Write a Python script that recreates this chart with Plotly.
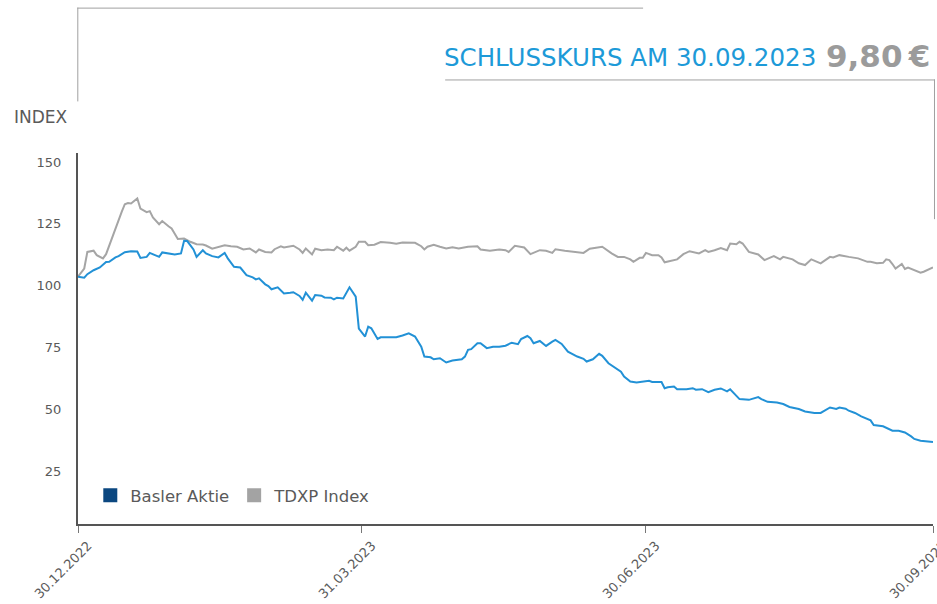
import pandas as pd
import plotly.graph_objects as go

# ---------------- data ----------------
start_date = "2022-12-30"

basler_days = [0, 2, 3, 5, 7, 9, 10, 12, 13, 15, 17, 19, 20, 22, 23, 25, 26, 27, 30, 31,
               33, 34, 35, 37, 38, 40, 41, 43, 45, 47, 48, 50, 52, 54, 56, 57, 58, 60, 61, 62,
               64, 65, 66, 68, 69, 71, 72, 73, 75, 76, 78, 79, 81, 82, 83, 85, 86, 87, 89, 90,
               92, 93, 94, 96, 97, 102, 104, 106, 108, 110, 111, 113, 114, 116, 118, 120, 123, 124, 125, 126,
               128, 129, 131, 133, 135, 137, 139, 141, 142, 144, 145, 146, 148, 149, 150, 152, 153, 155, 157, 160,
               162, 163, 165, 167, 168, 170, 172, 174, 175, 177, 179, 181, 183, 184, 187, 188, 189, 191, 192, 195,
               197, 198, 200, 202, 204, 206, 208, 209, 211, 212, 215, 218, 219, 221, 224, 226, 228, 231, 233, 236,
               238, 240, 241, 243, 244, 246, 247, 249, 251, 254, 255, 258, 260, 261, 263, 265, 267, 268, 270, 274]
basler_values = [100.0, 99.6, 101.0, 102.6, 103.7, 105.9, 106.0, 107.8, 108.3, 109.9, 110.3, 110.2, 107.6, 108.0, 109.6, 108.7, 108.0, 109.8, 109.4, 109.0,
                 109.4, 114.5, 114.4, 111.0, 108.0, 110.7, 109.4, 108.3, 107.8, 109.6, 107.4, 104.0, 103.7, 100.6, 99.7, 98.9, 99.3, 96.9, 96.2, 94.9,
                 95.7, 94.6, 93.2, 93.5, 93.7, 92.2, 90.6, 93.5, 90.3, 92.6, 92.3, 91.6, 91.5, 90.8, 91.5, 91.2, 93.3, 95.7, 91.9, 79.0,
                 75.8, 79.8, 79.1, 74.8, 75.5, 75.5, 76.2, 77.1, 75.8, 71.7, 67.7, 67.4, 66.6, 67.0, 65.3, 66.1, 66.6, 67.7, 70.4, 70.7,
                 73.1, 73.1, 71.1, 71.7, 71.7, 72.1, 73.3, 72.7, 74.8, 76.0, 75.1, 73.1, 74.0, 73.1, 72.0, 73.7, 74.4, 72.8, 69.7, 67.7,
                 66.8, 65.7, 66.6, 68.8, 68.0, 65.0, 63.3, 61.6, 59.6, 57.6, 57.2, 57.4, 57.9, 57.4, 57.4, 54.9, 55.3, 55.6, 54.5, 54.5,
                 54.9, 54.3, 54.5, 53.3, 54.3, 54.8, 53.6, 54.5, 51.6, 50.5, 50.2, 51.3, 50.5, 49.4, 49.1, 48.5, 47.3, 46.5, 45.5, 44.9,
                 44.9, 46.2, 47.1, 46.5, 47.1, 46.6, 45.8, 44.9, 43.5, 41.9, 40.0, 39.5, 38.4, 37.7, 37.7, 37.0, 35.4, 34.4, 33.7, 33.2]

tdxp_days = [0, 2, 3, 5, 6, 8, 9, 10, 12, 14, 15, 16, 17, 19, 20, 22, 23, 24, 26, 27,
             29, 30, 32, 33, 34, 36, 38, 40, 41, 43, 45, 47, 49, 51, 53, 55, 57, 58, 60, 62,
             63, 65, 66, 68, 69, 71, 72, 73, 75, 76, 78, 80, 82, 83, 85, 86, 87, 89, 90, 92,
             93, 95, 97, 100, 102, 104, 108, 110, 111, 112, 114, 116, 118, 120, 122, 125, 128, 129, 132, 135,
             137, 138, 140, 143, 145, 148, 150, 152, 153, 156, 159, 162, 164, 167, 168, 171, 173, 175, 177, 178,
             180, 181, 182, 184, 186, 187, 188, 192, 194, 196, 199, 201, 202, 204, 206, 208, 209, 211, 212, 213,
             215, 218, 219, 220, 222, 223, 225, 226, 229, 231, 233, 235, 238, 241, 242, 244, 247, 250, 253, 254,
             256, 258, 259, 260, 261, 262, 264, 265, 266, 268, 270, 271, 274]
tdxp_values = [100.0, 103.3, 110.0, 110.5, 108.7, 107.4, 109.1, 112.7, 119.5, 126.2, 129.3, 129.8, 129.6, 131.6, 127.5, 126.1, 126.5, 123.9, 121.2, 122.5,
               120.4, 119.5, 115.2, 115.2, 115.4, 114.1, 113.1, 113.0, 112.6, 111.3, 112.1, 112.7, 112.3, 112.1, 111.0, 111.4, 109.8, 111.0, 110.0, 109.8,
               111.1, 112.3, 111.8, 112.1, 112.5, 111.0, 109.6, 111.4, 109.0, 111.3, 110.7, 111.0, 110.7, 112.1, 110.5, 111.7, 110.5, 112.1, 114.1, 114.1,
               112.7, 112.9, 114.0, 113.7, 113.3, 113.8, 113.7, 112.3, 111.0, 112.1, 112.9, 112.1, 111.4, 111.9, 111.4, 112.1, 112.3, 111.0, 110.5, 111.0,
               110.7, 110.0, 112.5, 111.8, 109.1, 110.7, 110.5, 109.6, 111.1, 110.5, 110.0, 109.6, 111.3, 111.7, 112.1, 109.4, 108.0, 108.0, 107.0, 106.0,
               107.6, 107.6, 109.6, 108.7, 108.7, 107.8, 105.8, 107.0, 109.1, 110.3, 109.4, 110.7, 110.0, 110.7, 111.6, 110.7, 113.4, 113.1, 114.1, 113.4,
               110.0, 109.0, 108.0, 106.7, 107.8, 108.3, 107.0, 108.0, 107.0, 105.4, 104.7, 107.0, 105.4, 108.0, 107.8, 108.7, 108.0, 107.4, 106.0, 106.0,
               105.4, 105.6, 107.0, 106.7, 105.1, 103.3, 105.1, 103.1, 103.7, 102.7, 101.6, 102.0, 103.7]

series_names = ["Basler Aktie", "TDXP Index"]
x_tick_dates = ["2022-12-30", "2023-03-31", "2023-06-30", "2023-09-30"]
x_tick_labels = ["30.12.2022", "31.03.2023", "30.06.2023", "30.09.2023"]
y_tick_values = [25, 50, 75, 100, 125, 150]
y_tick_labels = ["25", "50", "75", "100", "125", "150"]
y_axis_title = "INDEX"
headline = "SCHLUSSKURS AM 30.09.2023"
closing_price = "9,80\u2009€"

# ---------------- styling ----------------
BLUE_LINE = "#2291D6"
NAVY = "#0B4780"
GREY_LINE = "#A5A5A5"
TEXT = "#5A5A5A"
FRAME = "#A0A0A0"
FONT = "DejaVu Sans"

W, H = 937, 604
L, R, T, B = 77.7, 933, 152.7, 524.5   # plot area in page pixels


def px(x):
    return (x - L) / (R - L)


def py(y):
    return (B - y) / (B - T)


base = pd.Timestamp(start_date)
basler_dates = base + pd.to_timedelta(basler_days, unit="D")
tdxp_dates = base + pd.to_timedelta(tdxp_days, unit="D")

fig = go.Figure()
fig.add_trace(go.Scatter(x=tdxp_dates, y=tdxp_values, mode="lines", name=series_names[1],
                         line=dict(color=GREY_LINE, width=2), showlegend=False))
fig.add_trace(go.Scatter(x=basler_dates, y=basler_values, mode="lines", name=series_names[0],
                         line=dict(color=BLUE_LINE, width=2), showlegend=False))
# legend entries with square swatches
fig.add_trace(go.Scatter(x=[None], y=[None], mode="markers", name=series_names[0],
                         marker=dict(symbol="square", size=14, color=NAVY)))
fig.add_trace(go.Scatter(x=[None], y=[None], mode="markers", name=series_names[1],
                         marker=dict(symbol="square", size=14, color="#A3A3A3")))

fig.update_layout(
    width=W, height=H,
    margin=dict(l=L, r=W - R, t=T, b=H - B, autoexpand=False),
    paper_bgcolor="white", plot_bgcolor="white",
    font=dict(family=FONT, color=TEXT, size=14),
    legend=dict(orientation="h", x=px(90), y=py(496), xanchor="left", yanchor="middle",
                font=dict(family=FONT, size=16.5, color=TEXT), itemwidth=30, tracegroupgap=0,
                bgcolor="rgba(0,0,0,0)"),
    xaxis=dict(type="date", range=[x_tick_dates[0], x_tick_dates[-1]],
               tickvals=x_tick_dates, ticktext=x_tick_labels, tickangle=-45,
               showgrid=False, zeroline=False, showline=True, linecolor="#555555", linewidth=2,
               ticks="outside", ticklen=7, tickcolor="#777777", tickwidth=1,
               ticklabelshift=10, ticklabelstandoff=0, ticklabeloverflow="allow", automargin=False,
               tickfont=dict(family=FONT, size=13, color=TEXT)),
    yaxis=dict(range=[0, 150], tickvals=y_tick_values, ticktext=y_tick_labels,
               showgrid=False, zeroline=False, showline=True, linecolor="#555555", linewidth=2,
               ticks="", ticklabelstandoff=12, ticklabelshift=9, automargin=False,
               tickfont=dict(family=FONT, size=13, color=TEXT)),
)

# decorative frame lines
line_style = dict(color=FRAME, width=1)
fig.add_shape(type="line", xref="paper", yref="paper", x0=px(77), x1=px(643), y0=py(7.5), y1=py(7.5), line=line_style)
fig.add_shape(type="line", xref="paper", yref="paper", x0=px(77.5), x1=px(77.5), y0=py(7), y1=py(101), line=line_style)
fig.add_shape(type="line", xref="paper", yref="paper", x0=px(445), x1=px(935), y0=py(79.5), y1=py(79.5), line=line_style)
fig.add_shape(type="line", xref="paper", yref="paper", x0=px(934.5), x1=px(934.5), y0=py(79), y1=py(219), line=line_style)

fig.add_annotation(xref="paper", yref="paper", x=px(818), y=py(57), xanchor="right", yanchor="middle",
                   text=headline, showarrow=False, font=dict(family=FONT, size=24.5, color="#1D9AD8"))
fig.add_annotation(xref="paper", yref="paper", x=px(932), y=py(55), xanchor="right", yanchor="middle",
                   text="<b>" + closing_price + "</b>", showarrow=False,
                   font=dict(family=FONT, size=31, color="#9B9B9B"))
fig.add_annotation(xref="paper", yref="paper", x=px(12), y=py(117), xanchor="left", yanchor="middle",
                   text=y_axis_title, showarrow=False, font=dict(family=FONT, size=17, color=TEXT))

# remove the default page margin so the figure fills the 937x604 window exactly
fig.write_html("out.html", config={"displayModeBar": False},
               post_script="document.body.style.margin='0';document.body.style.overflow='hidden';")
